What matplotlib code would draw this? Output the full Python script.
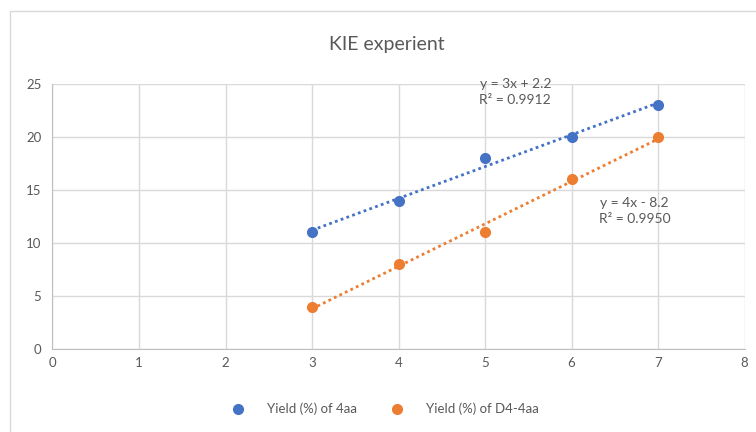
import numpy as np
import matplotlib
matplotlib.use("Agg")
import matplotlib.pyplot as plt
from matplotlib.patches import Rectangle

x_vals = [3, 4, 5, 6, 7]
yield_4aa = [11, 14, 18, 20, 23]
yield_d4 = [4, 8, 11, 16, 20]

series_names = ["Yield (%) of 4aa", "Yield (%) of D4-4aa"]
blue = "#4472C4"
orange = "#ED7D31"
txt = "#595959"

plt.rcParams["font.family"] = ["Lato", "DejaVu Sans"]

fig = plt.figure(figsize=(7.56, 4.32), dpi=100)
ax = fig.add_axes([0.0694, 0.192, 0.9156, 0.614])

# chart area border (Excel style)
fig.patches.append(Rectangle((10 / 756, -0.1), 1.2, 1 - 11 / 432 + 0.1,
                             transform=fig.transFigure, fill=False,
                             edgecolor="#d9d9d9", linewidth=1))

for ys, col, name in [(yield_4aa, blue, series_names[0]), (yield_d4, orange, series_names[1])]:
    slope, icpt = np.polyfit(x_vals, ys, 1)
    xs = np.array([x_vals[0], x_vals[-1]])
    ax.plot(xs, slope * xs + icpt, linestyle=(0, (1, 1.2)), color=col, linewidth=2, zorder=2)
    ax.plot(x_vals, ys, "o", color=col, markersize=7, label=name, zorder=3)

# trendline equations
ax.text(5.35, 24.2, "y = 3x + 2.2\nR² = 0.9912", fontsize=10, color=txt,
        ha="center", va="center", linespacing=1.4)
ax.text(6.73, 13.0, "y = 4x - 8.2\nR² = 0.9950", fontsize=10, color=txt,
        ha="center", va="center", linespacing=1.4)

ax.set_xlim(0, 8)
ax.set_ylim(0, 25)
ax.set_xticks(range(0, 9))
ax.set_yticks(range(0, 26, 5))
ax.grid(True, color="#d9d9d9", linewidth=1)
ax.set_axisbelow(True)
for s in ["top", "right"]:
    ax.spines[s].set_visible(False)
for s in ["left", "bottom"]:
    ax.spines[s].set_color("#bfbfbf")
ax.tick_params(length=0, colors=txt, labelsize=9.5)
ax.tick_params(axis="x", pad=6)
ax.tick_params(axis="y", pad=8)

fig.text(0.512, 0.898, "KIE experient", fontsize=14, color=txt, ha="center", va="center")

fig.legend(loc="center", bbox_to_anchor=(0.505, 0.053), ncol=2, frameon=False,
           fontsize=9.5, labelcolor=txt, handletextpad=1.2, columnspacing=2.0,
           markerscale=1.0)

fig.savefig("out.png", dpi=100)
